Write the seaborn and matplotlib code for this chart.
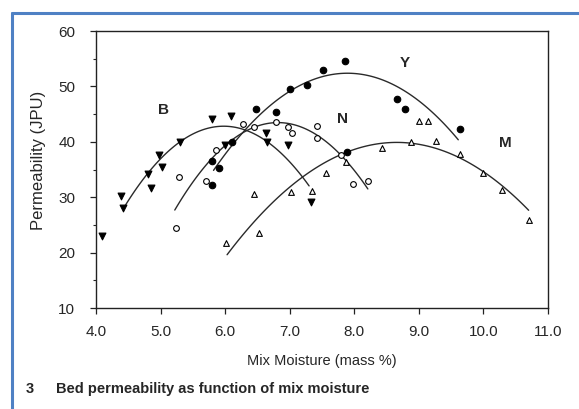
import numpy as np
import pandas as pd
import matplotlib
matplotlib.use("Agg")
import matplotlib.pyplot as plt
import seaborn as sns

# ─── data ────────────────────────────────────────────────────────────────────
b_x = [4.10, 4.38, 4.42, 4.80, 4.85, 4.97, 5.02, 5.30, 5.79, 6.09, 6.00, 6.63, 6.65, 6.97, 7.33]
b_y = [23.0, 30.2, 28.0, 34.1, 31.7, 37.6, 35.4, 40.0, 44.2, 44.6, 39.4, 41.5, 40.0, 39.4, 29.2]

y_x = [5.79, 5.79, 5.90, 6.10, 6.48, 6.79, 7.00, 7.27, 7.51, 7.85, 7.89, 8.66, 8.78, 9.63]
y_y = [36.6, 32.2, 35.2, 40.0, 46.0, 45.4, 49.5, 50.3, 53.0, 54.5, 38.1, 47.7, 46.0, 42.3]

n_x = [5.24, 5.29, 5.71, 5.86, 6.27, 6.45, 6.78, 6.97, 7.03, 7.42, 7.42, 7.79, 7.98, 8.21]
n_y = [24.4, 33.6, 32.9, 38.6, 43.2, 42.7, 43.5, 42.7, 41.5, 42.9, 40.6, 37.6, 32.3, 33.0]

m_x = [6.01, 6.44, 6.52, 7.02, 7.35, 7.56, 7.87, 8.43, 8.88, 9.00, 9.14, 9.26, 9.64, 10.00, 10.29, 10.71]
m_y = [21.8, 30.5, 23.5, 31.0, 31.2, 34.3, 36.4, 38.9, 40.0, 43.8, 43.8, 40.2, 37.8, 34.3, 31.3, 25.9]

# points picked along each drawn fit curve (start, middle, end)
b_cx = [4.42, 4.80, 5.30, 5.97, 6.66, 7.30]
b_cy = [28.0, 34.1, 40.0, 42.85, 40.0, 32.0]
y_cx = [5.82, 6.30, 7.01, 7.94, 9.61]
y_cy = [34.8, 42.0, 49.4, 52.2, 40.4]
n_cx = [5.22, 6.30, 6.80, 7.78, 8.21]
n_cy = [27.7, 41.8, 43.4, 37.9, 31.4]
m_cx = [6.03, 7.01, 7.78, 8.71, 10.00, 10.70]
m_cy = [19.7, 31.6, 37.9, 40.0, 34.3, 27.8]

series_names = ["B", "Y", "N", "M"]
label_x = [5.04, 8.78, 7.82, 10.34]
label_y = [45.7, 54.2, 44.1, 39.7]

x_ticks = [4.0, 5.0, 6.0, 7.0, 8.0, 9.0, 10.0, 11.0]
y_ticks = [10, 20, 30, 40, 50, 60]

# ─── style ───────────────────────────────────────────────────────────────────
sns.set_style("ticks")
plt.rcParams["font.family"] = ["Liberation Sans", "DejaVu Sans"]

fig = plt.figure(figsize=(5.79, 4.09), dpi=100)
ax = fig.add_axes([0.1658, 0.2469, 0.7807, 0.6773])


def smooth_curve(cx, cy):
    coef = np.polyfit(cx, cy, 2)
    xs = np.linspace(min(cx), max(cx), 120)
    return pd.DataFrame({"x": xs, "y": np.polyval(coef, xs)})


curves = [(b_cx, b_cy), (y_cx, y_cy), (n_cx, n_cy), (m_cx, m_cy)]
for cx, cy in curves:
    c = smooth_curve(cx, cy)
    sns.lineplot(data=c, x="x", y="y", ax=ax, color="#2a2a2a", lw=1.0,
                 sort=False, estimator=None)

pts = [
    (b_x, b_y, "v", "black", 24),
    (y_x, y_y, "o", "black", 22),
    (n_x, n_y, "o", "white", 17),
    (m_x, m_y, "^", "white", 17),
]
for xs, ys, mk, fc, sz in pts:
    sns.scatterplot(x=xs, y=ys, ax=ax, marker=mk, color=fc, edgecolor="black",
                    linewidth=0.8, s=sz, zorder=3)

for name, lx, ly in zip(series_names, label_x, label_y):
    ax.text(lx, ly, name, fontsize=11, fontweight="bold", ha="center", va="center")

ax.set_xlim(4.0, 11.0)
ax.set_ylim(10, 60)
ax.set_xticks(x_ticks)
ax.set_xticklabels([f"{t:.1f}" for t in x_ticks])
ax.set_yticks(y_ticks)
ax.set_yticks(np.arange(15, 60, 10), minor=True)
ax.tick_params(axis="both", which="major", direction="out", length=4, width=0.9,
               labelsize=11, color="#222")
ax.tick_params(axis="x", pad=8)
ax.tick_params(axis="y", pad=11)
ax.tick_params(axis="y", which="minor", direction="out", length=2, width=0.8)
for sp in ax.spines.values():
    sp.set_visible(True)
    sp.set_linewidth(1.0)
    sp.set_color("#222")
ax.set_xlabel("")
ax.set_ylabel("")

fig.text(0.5562, 0.117, "Mix Moisture (mass %)", fontsize=10.5,
         ha="center", va="center")
fig.text(0.066, 0.609, "Permeability (JPU)", fontsize=12, rotation=90,
         ha="center", va="center")
fig.text(0.045, 0.049, "3", fontsize=10.5, fontweight="bold", va="center")
fig.text(0.097, 0.049, "Bed permeability as function of mix moisture",
         fontsize=10.5, fontweight="bold", va="center")

# blue frame on top and left edge
fig.add_artist(plt.Line2D([0.0207, 0.0207], [0.0, 0.968], color="#4f81c4",
                          lw=2.2, transform=fig.transFigure))
fig.add_artist(plt.Line2D([0.0207, 1.0], [0.968, 0.968], color="#4f81c4",
                          lw=2.2, transform=fig.transFigure))

fig.savefig("out.png", dpi=100)
